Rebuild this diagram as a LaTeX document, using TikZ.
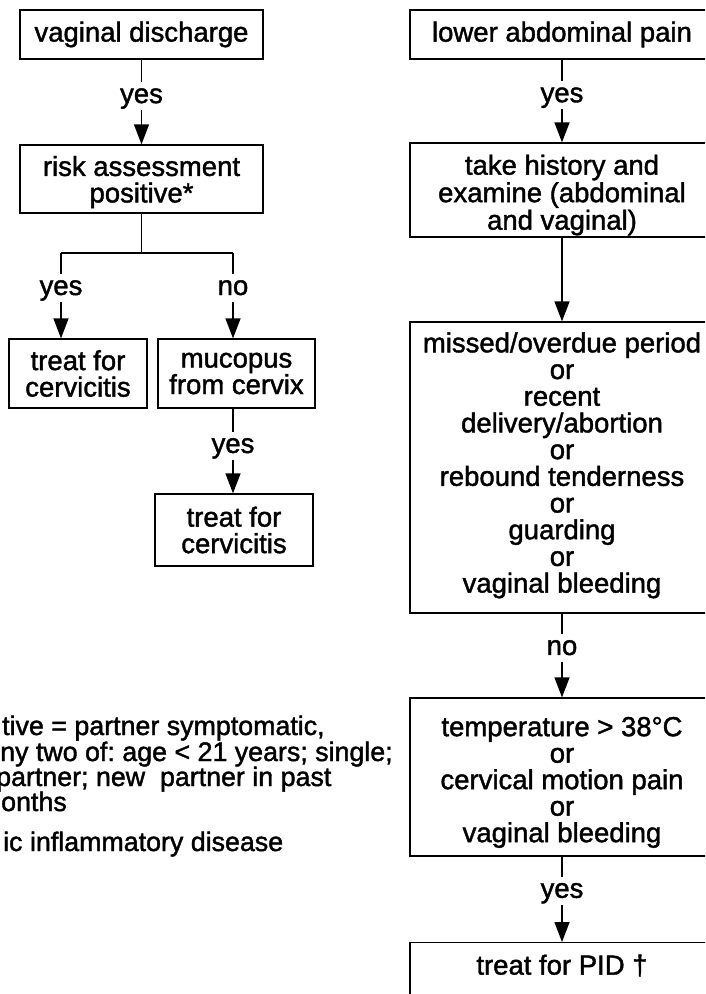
\documentclass[tikz,border=0pt]{standalone}
\usepackage{fontspec}
\setmainfont[FakeBold=1.5]{Liberation Sans}
\usetikzlibrary{arrows.meta}
\frenchspacing
\begin{document}
\begin{tikzpicture}[x=1pt,y=-1pt,
  font=\fontsize{27.5}{26.5}\selectfont,
  box/.style={draw, line width=1.3pt, align=center, inner sep=0pt},
  conn/.style={line width=1.4pt},
  arr/.style={conn, -{Triangle[length=20pt,width=15pt]}},
  lab/.style={fill=white, inner xsep=2pt, inner ysep=1pt, text height=20pt, text depth=6pt},
  foot/.style={anchor=base west, inner sep=0pt, font=\fontsize{26.8}{25}\selectfont}]
\useasboundingbox (0,0) rectangle (705,994);
\clip (0,0) rectangle (705,994);
% left column
\node[box, minimum width=243, minimum height=49] (vd) at (141.5,34.5) {vaginal discharge};
\node[box, minimum width=243, minimum height=68] (risk) at (141.5,179) {\rule{0pt}{26pt}risk assessment\\positive*};
\node[box, minimum width=138, minimum height=69] (treat1) at (78,373.5) {treat for\\cervicitis};
\node[box, minimum width=157, minimum height=69] (muc) at (236.5,373.5) {mucopus\\from cervix};
\node[box, minimum width=158, minimum height=72] (treat2) at (234,530) {treat for\\cervicitis};
\coordinate (bj) at (141.5,253);
\coordinate (bl) at (61,253);
\coordinate (br) at (233,253);
\draw[arr] (vd.south) -- node[lab,pos=0.43]{yes} (risk.north);
\draw[conn] (risk.south) -- (bj);
\draw[conn] (bl) -- (br);
\draw[arr] (bl) -- node[lab,pos=0.41]{yes} (bl |- treat1.north);
\draw[arr] (br) -- node[lab,pos=0.41]{no} (br |- muc.north);
\draw[arr] (br |- muc.south) -- node[lab,pos=0.44]{yes} (br |- treat2.north);
% right column
\node[box, minimum width=304, minimum height=49] (lap) at (562,34.5) {lower abdominal pain};
\node[box, minimum width=304, minimum height=94, font=\fontsize{27.5}{27.5}\selectfont] (hist) at (562,190) {\rule{0pt}{30pt}take history and\\examine (abdominal\\and vaginal)};
\node[box, minimum width=304, minimum height=291, font=\fontsize{27.5}{26.7}\selectfont] (big) at (562,467.5) {missed/overdue period\\or\\recent\\delivery/abortion\\or\\rebound tenderness\\or\\guarding\\or\\vaginal bleeding\rule[-10pt]{0pt}{0pt}};
\node[box, minimum width=304, minimum height=158] (temp) at (562,777) {\rule{0pt}{30pt}temperature > 38°C\\or\\cervical motion pain\\or\\vaginal bleeding};
\node[box, minimum width=304, anchor=north, inner ysep=12pt, text depth=45pt] (pid) at (562,942) {treat for PID †};
\draw[arr] (lap.south) -- node[lab,pos=0.43]{yes} (hist.north);
\draw[arr] (hist.south) -- (big.north);
\draw[arr] (big.south) -- node[lab,pos=0.41]{no} (temp.north);
\draw[arr] (temp.south) -- node[lab,pos=0.4]{yes} (pid.north);
% footnotes
\node[foot] (f1) at (2,735) {tive = partner symptomatic,};
\node[foot] (f2) at (0,761) {ny two of: age < 21 years; single;};
\node[foot] (f3) at (-4,786) {partner; new\ \ partner in past};
\node[foot] (f4) at (1,811) {onths};
\node[foot] (f5) at (3,851) {ic inflammatory disease};
\end{tikzpicture}
\end{document}
